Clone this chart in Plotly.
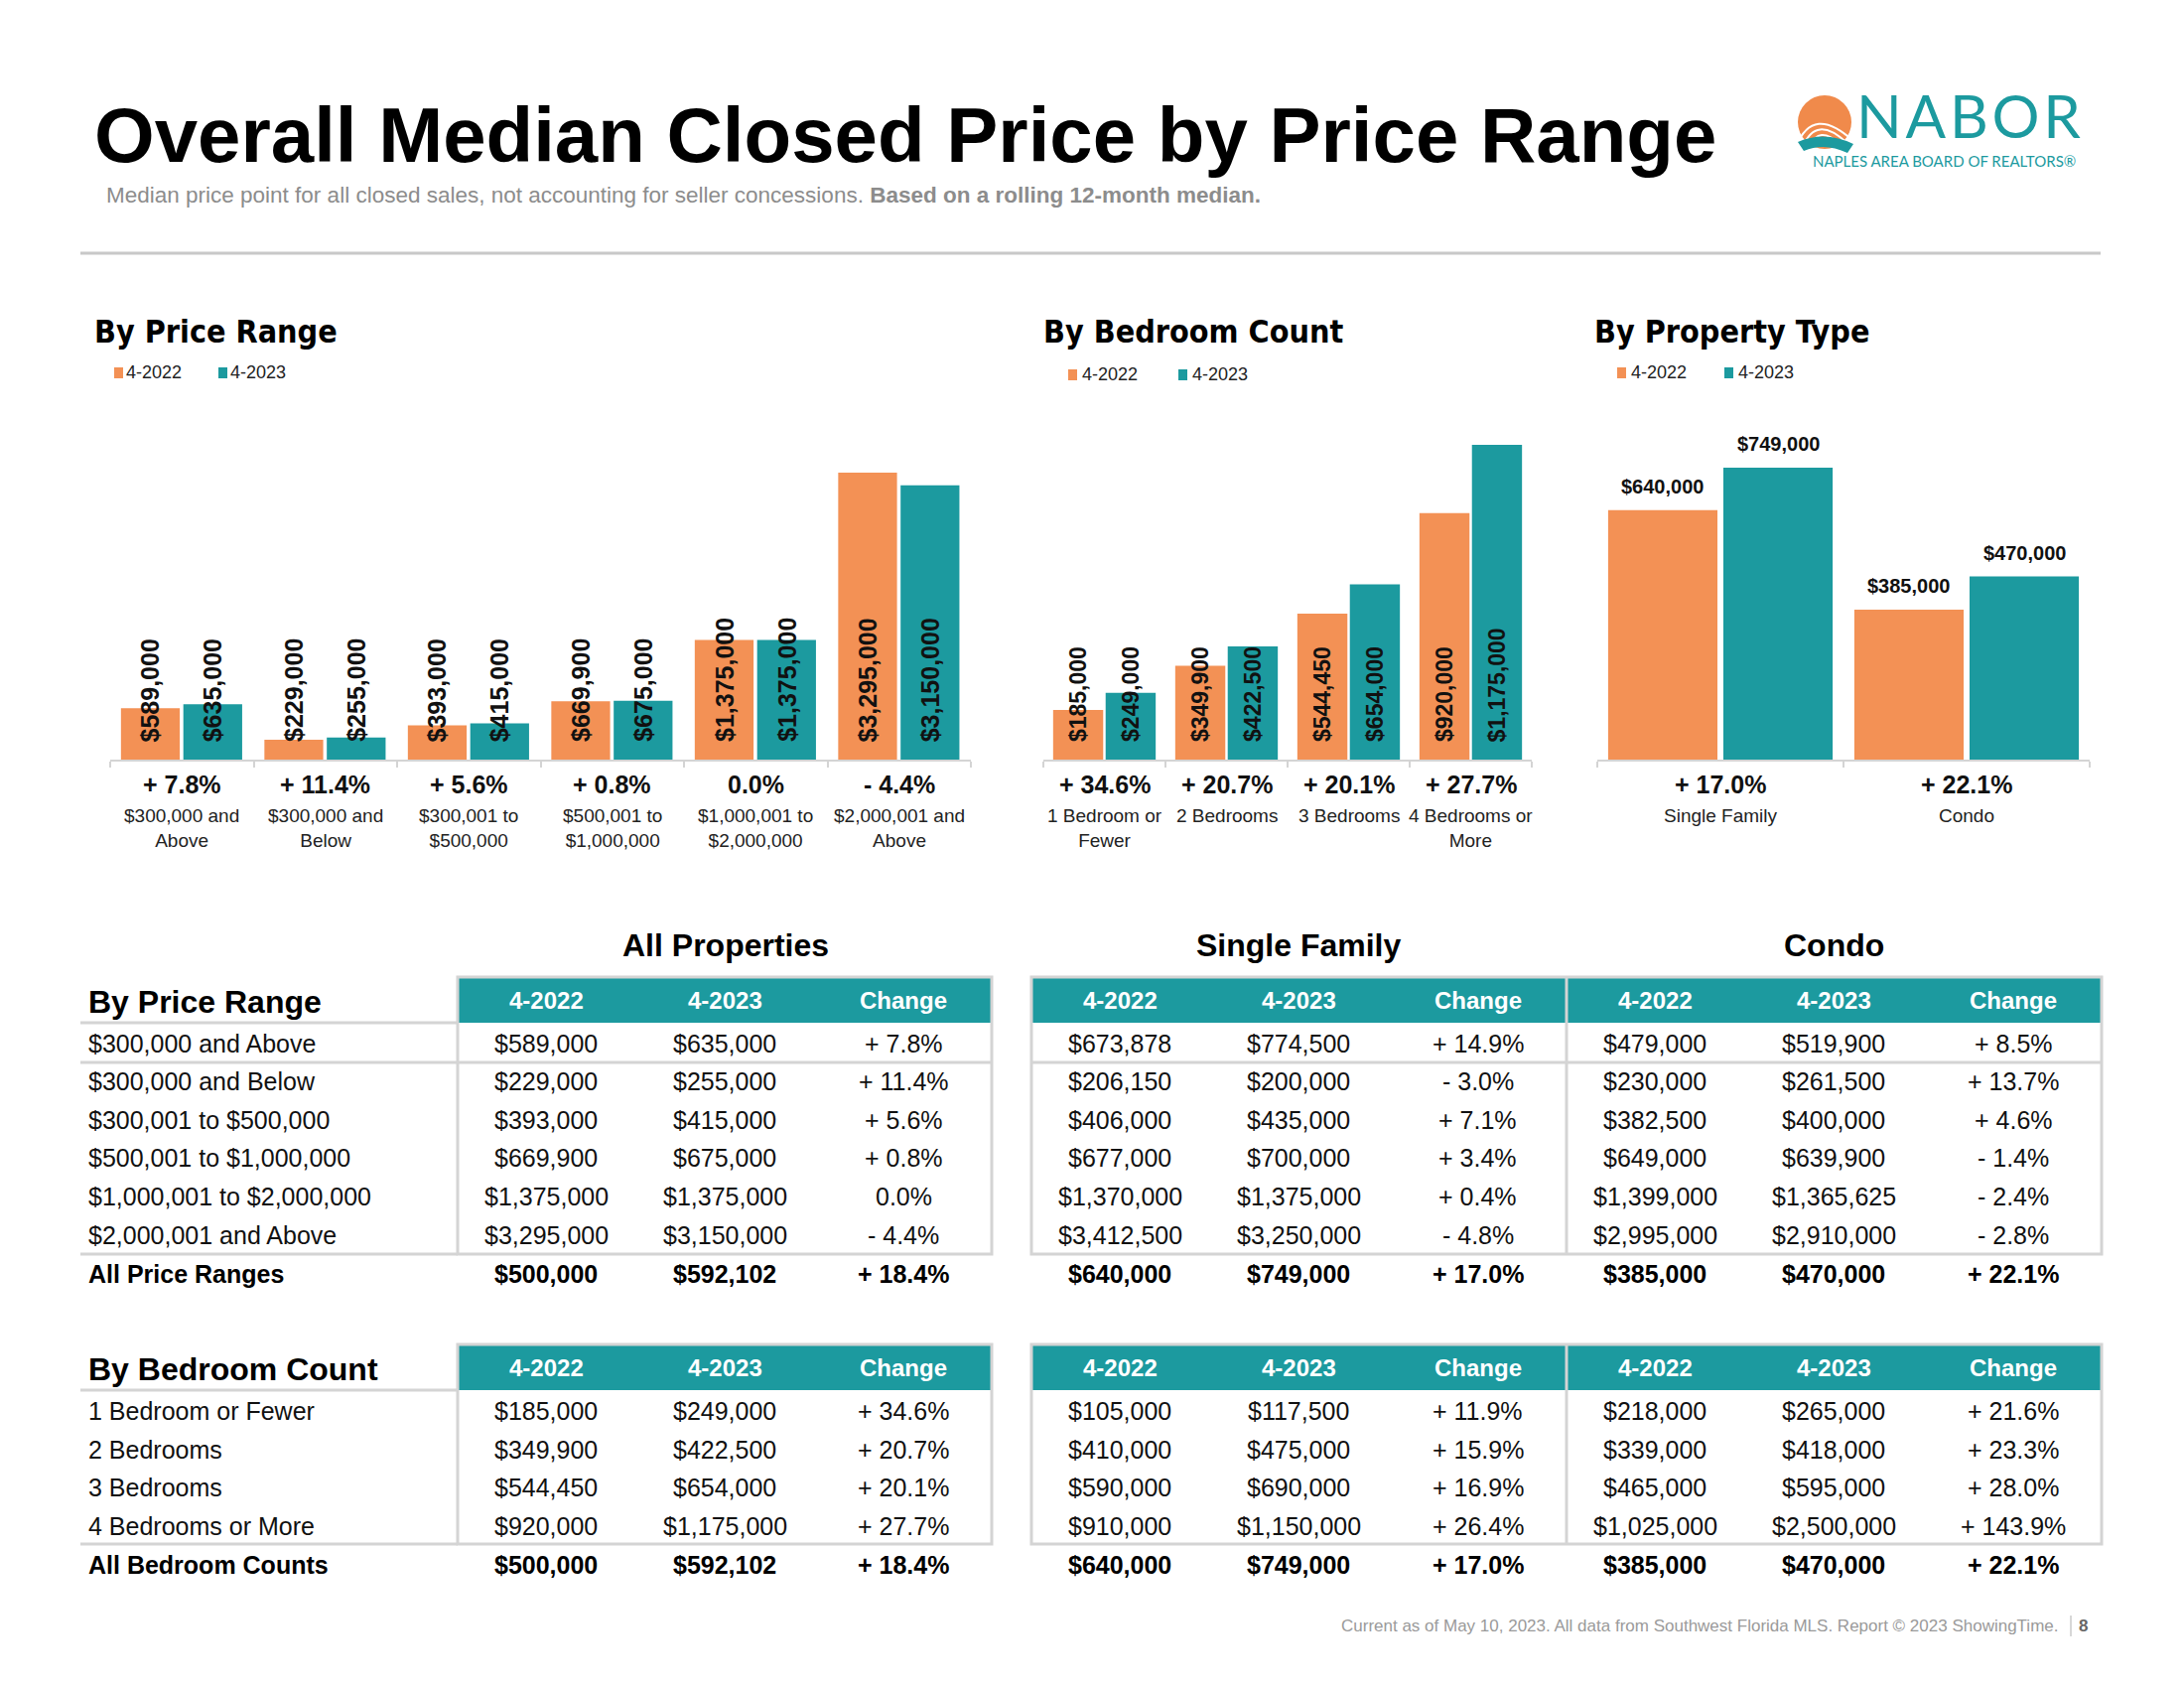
import plotly.graph_objects as go

W, H = 2200, 1700
ORANGE = "#F39155"
TEAL = "#1C9A9F"
GRID = "#d4d4d4"
FONT = "Liberation Sans, Arial, Helvetica, sans-serif"
NARROW = "DejaVu Sans Condensed, Liberation Sans Narrow, Arial Narrow, sans-serif"

# ---------------- data ----------------
series_names = ["4-2022", "4-2023"]

price_chart_labels = ["$300,000 and<br>Above", "$300,000 and<br>Below", "$300,001 to<br>$500,000",
                      "$500,001 to<br>$1,000,000", "$1,000,001 to<br>$2,000,000", "$2,000,001 and<br>Above"]
price_2022 = [589000, 229000, 393000, 669900, 1375000, 3295000]
price_2023 = [635000, 255000, 415000, 675000, 1375000, 3150000]
price_chg = ["+ 7.8%", "+ 11.4%", "+ 5.6%", "+ 0.8%", "0.0%", "- 4.4%"]

bed_chart_labels = ["1 Bedroom or<br>Fewer", "2 Bedrooms", "3 Bedrooms", "4 Bedrooms or<br>More"]
bed_2022 = [185000, 349900, 544450, 920000]
bed_2023 = [249000, 422500, 654000, 1175000]
bed_chg = ["+ 34.6%", "+ 20.7%", "+ 20.1%", "+ 27.7%"]

type_labels = ["Single Family", "Condo"]
type_2022 = [640000, 385000]
type_2023 = [749000, 470000]
type_chg = ["+ 17.0%", "+ 22.1%"]

price_rows = ["$300,000 and Above", "$300,000 and Below", "$300,001 to $500,000",
              "$500,001 to $1,000,000", "$1,000,001 to $2,000,000", "$2,000,001 and Above"]
sf_price_2022 = [673878, 206150, 406000, 677000, 1370000, 3412500]
sf_price_2023 = [774500, 200000, 435000, 700000, 1375000, 3250000]
sf_price_chg = ["+ 14.9%", "- 3.0%", "+ 7.1%", "+ 3.4%", "+ 0.4%", "- 4.8%"]
condo_price_2022 = [479000, 230000, 382500, 649000, 1399000, 2995000]
condo_price_2023 = [519900, 261500, 400000, 639900, 1365625, 2910000]
condo_price_chg = ["+ 8.5%", "+ 13.7%", "+ 4.6%", "- 1.4%", "- 2.4%", "- 2.8%"]

bed_rows = ["1 Bedroom or Fewer", "2 Bedrooms", "3 Bedrooms", "4 Bedrooms or More"]
sf_bed_2022 = [105000, 410000, 590000, 910000]
sf_bed_2023 = [117500, 475000, 690000, 1150000]
sf_bed_chg = ["+ 11.9%", "+ 15.9%", "+ 16.9%", "+ 26.4%"]
condo_bed_2022 = [218000, 339000, 465000, 1025000]
condo_bed_2023 = [265000, 418000, 595000, 2500000]
condo_bed_chg = ["+ 21.6%", "+ 23.3%", "+ 28.0%", "+ 143.9%"]

all_total = [500000, 592102, "+ 18.4%"]
sf_total = [640000, 749000, "+ 17.0%"]
condo_total = [385000, 470000, "+ 22.1%"]

# ---------------- helpers ----------------
def px(x):
    return x / W

def py(y):
    return 1 - y / H

def money(v):
    return f"${v:,}"

annotations = []
shapes = []

def ann(x, y, text, size, color="#000", xanchor="center", yanchor="middle", family=FONT, **kw):
    annotations.append(dict(
        x=px(x), y=py(y), xref="paper", yref="paper", text=text, showarrow=False,
        xanchor=xanchor, yanchor=yanchor,
        font=dict(family=family, size=size, color=color), **kw))

def hline(x0, x1, y, color=GRID, width=3):
    shapes.append(dict(type="line", xref="paper", yref="paper", x0=px(x0), x1=px(x1),
                       y0=py(y), y1=py(y), line=dict(color=color, width=width)))

def vline(x, y0, y1, color=GRID, width=3):
    shapes.append(dict(type="line", xref="paper", yref="paper", x0=px(x), x1=px(x),
                       y0=py(y0), y1=py(y1), line=dict(color=color, width=width)))

def rect(x0, x1, y0, y1, fill=None, line=None, lw=0):
    shapes.append(dict(type="rect", xref="paper", yref="paper", x0=px(x0), x1=px(x1),
                       y0=py(y0), y1=py(y1), fillcolor=fill if fill else "rgba(0,0,0,0)",
                       line=dict(color=line if line else "rgba(0,0,0,0)", width=lw)))

fig = go.Figure()

# ---------------- header ----------------
ann(93, 136, "<b>Overall Median Closed Price by Price Range</b>", 78, xanchor="left")
ann(105, 197, "Median price point for all closed sales, not accounting for seller concessions. "
    "<b>Based on a rolling 12-month median.</b>", 22.5, color="#8c8c8c", xanchor="left")
hline(81, 2116, 255, color="#c8c8c8", width=3)

# logo
shapes.append(dict(type="circle", xref="paper", yref="paper", x0=px(1811), x1=px(1865),
                   y0=py(96), y1=py(150), fillcolor="#F08A4B", line=dict(width=0)))
for k in range(4):
    r = 8 + k * 7
    shapes.append(dict(type="path", xref="paper", yref="paper",
                       path=f"M {px(1838 - r)} {py(148)} Q {px(1838 - r * 0.4)} {py(148 - r * 1.5)} {px(1838 + r)} {py(148 - r * 0.2)}",
                       line=dict(color="white", width=2)))
shapes.append(dict(type="path", xref="paper", yref="paper",
                   path=f"M {px(1811)} {py(143)} Q {px(1838)} {py(131)} {px(1867)} {py(145)} L {px(1861)} {py(154)} Q {px(1838)} {py(143)} {px(1817)} {py(152)} Z",
                   fillcolor=TEAL, line=dict(width=0)))
ann(1868, 116, "N&#8202;A&#8202;B&#8202;O&#8202;R", 60, color=TEAL, xanchor="left",
    family="Lato, Open Sans, sans-serif")
ann(1958, 162, "NAPLES AREA BOARD OF REALTORS®", 15, color=TEAL, family="Lato, Open Sans, sans-serif")

# ---------------- charts ----------------
charts = [
    dict(ax="", x0=111, x1=978, labels=price_chart_labels, a=price_2022, b=price_2023, chg=price_chg,
         top_px=289, width=0.41, off=(-0.425, 0.01), label="rot", lsize=25,
         title="By Price Range", tx=93, leg=(115, 126, 220, 231), ly=375),
    dict(ax="2", x0=1051, x1=1543, labels=bed_chart_labels, a=bed_2022, b=bed_2023, chg=bed_chg,
         top_px=317, width=0.41, off=(-0.42, 0.01), label="rot", lsize=23,
         title="By Bedroom Count", tx=1049, leg=(1076, 1089, 1187, 1200), ly=377),
    dict(ax="3", x0=1609, x1=2105, labels=type_labels, a=type_2022, b=type_2023, chg=type_chg,
         top_px=294, width=0.444, off=(-0.456, 0.012), label="top", lsize=20,
         title="By Property Type", tx=1604, leg=(1629, 1642, 1737, 1750), ly=375),
]

BASE = 765
TOP = 420
layout_axes = {}
for c in charts:
    n = len(c["labels"])
    xs = list(range(n))
    xa = "x" + c["ax"]
    ya = "y" + c["ax"]
    vmax = max(max(c["a"]), max(c["b"]))
    ytop = vmax * (BASE - TOP) / c["top_px"]
    for vals, col, off, name in [(c["a"], ORANGE, c["off"][0], series_names[0]),
                                  (c["b"], TEAL, c["off"][1], series_names[1])]:
        fig.add_trace(go.Bar(x=xs, y=vals, width=c["width"], offset=off, marker_color=col,
                             marker_line_width=0, name=name, showlegend=False,
                             xaxis=xa, yaxis=ya, hoverinfo="skip"))
        for i, v in enumerate(vals):
            if c["label"] == "rot":
                annotations.append(dict(x=i + off + c["width"] / 2, y=0, xref=xa, yref=ya,
                                        text=f"<b>{money(v)}</b>", showarrow=False, textangle=-90,
                                        xanchor="center", yanchor="bottom", yshift=16,
                                        font=dict(family=FONT, size=c["lsize"], color="#111")))
            else:
                annotations.append(dict(x=i + off + c["width"] / 2, y=v, xref=xa, yref=ya,
                                        text=f"<b>{money(v)}</b>", showarrow=False,
                                        xanchor="center", yanchor="bottom", yshift=11,
                                        font=dict(family=FONT, size=c["lsize"], color="#111")))
    key = "xaxis" + c["ax"]
    ykey = "yaxis" + c["ax"]
    layout_axes[key] = dict(domain=[px(c["x0"]), px(c["x1"])], range=[-0.5, n - 0.5],
                            anchor=ya, showgrid=False, zeroline=False, showline=True,
                            linecolor=GRID, linewidth=2, ticks="outside", ticklen=6,
                            tickcolor=GRID, tickwidth=2,
                            tickvals=[i - 0.5 for i in range(n + 1)], showticklabels=False,
                            fixedrange=True)
    layout_axes[ykey] = dict(domain=[py(BASE), py(TOP)], range=[0, ytop], anchor=xa,
                             visible=False, fixedrange=True)
    for i in range(n):
        annotations.append(dict(x=i, y=py(790), xref=xa, yref="paper", text=f"<b>{c['chg'][i]}</b>",
                                showarrow=False, xanchor="center", yanchor="middle",
                                font=dict(family=FONT, size=25, color="#111")))
        annotations.append(dict(x=i, y=py(809), xref=xa, yref="paper", text=c["labels"][i],
                                showarrow=False, xanchor="center", yanchor="top",
                                font=dict(family=FONT, size=19, color="#222")))
    # title + legend
    ann(c["tx"], 334, f"<b>{c['title']}</b>", 32, xanchor="left", family=NARROW)
    s1, t1, s2, t2 = c["leg"]
    for sx, tx, col, name in [(s1, t1, ORANGE, series_names[0]), (s2, t2, TEAL, series_names[1])]:
        rect(sx, sx + 9, c["ly"] - 5, c["ly"] + 6, fill=col)
        ann(tx - 1, c["ly"], name, 18, color="#222", xanchor="left")

# ---------------- tables ----------------
LBL_X0 = 81
AP = (461, 999)
SF = (1039, 2117)
DIV = 1578
AP_COLS = [550, 730, 910]
SF_COLS = [1128, 1308, 1489]
CO_COLS = [1667, 1847, 2028]
HDR = ["4-2022", "4-2023", "Change"]

ann(731, 952, "<b>All Properties</b>", 32)
ann(1308, 952, "<b>Single Family</b>", 32)
ann(1847, 952, "<b>Condo</b>", 32)

def table(top, hbot, row_ys, bottom, total_y, title, rows, ap, sfv, cov, tot_label, first_sep):
    rect(AP[0], AP[1], top, hbot, fill=TEAL)
    rect(SF[0], SF[1], top, hbot, fill=TEAL)
    rect(AP[0], AP[1], top, bottom, line=GRID, lw=3)
    rect(SF[0], SF[1], top, bottom, line=GRID, lw=3)
    vline(DIV, top, bottom)
    hline(LBL_X0, AP[0], hbot)
    hline(LBL_X0, AP[0], bottom)
    if first_sep:
        sep = (row_ys[0] + row_ys[1]) / 2
        hline(LBL_X0, AP[1], sep)
        hline(SF[0], SF[1], sep)
    hy = (top + hbot) / 2
    ann(87, hy + 2, f"<b>{title}</b>", 32, xanchor="left")
    for cols in (AP_COLS, SF_COLS, CO_COLS):
        for cx, h in zip(cols, HDR):
            ann(cx, hy, f"<b>{h}</b>", 24, color="white")
    for r, y in enumerate(row_ys):
        ann(87, y, rows[r], 25, color="#111", xanchor="left")
        for cols, (v1, v2, ch) in zip((AP_COLS, SF_COLS, CO_COLS), (ap, sfv, cov)):
            ann(cols[0], y, money(v1[r]), 25, color="#111")
            ann(cols[1], y, money(v2[r]), 25, color="#111")
            ann(cols[2], y, ch[r], 25, color="#111")
    ann(87, total_y, f"<b>{tot_label}</b>", 25, xanchor="left")
    for cols, t in zip((AP_COLS, SF_COLS, CO_COLS), (all_total, sf_total, condo_total)):
        ann(cols[0], total_y, f"<b>{money(t[0])}</b>", 25)
        ann(cols[1], total_y, f"<b>{money(t[1])}</b>", 25)
        ann(cols[2], total_y, f"<b>{t[2]}</b>", 25)

table(984, 1030, [1051, 1089, 1128, 1166, 1205, 1244], 1263, 1283, "By Price Range", price_rows,
      (price_2022, price_2023, price_chg),
      (sf_price_2022, sf_price_2023, sf_price_chg),
      (condo_price_2022, condo_price_2023, condo_price_chg), "All Price Ranges", True)

table(1354, 1400, [1421, 1460, 1498, 1537], 1555, 1576, "By Bedroom Count", bed_rows,
      (bed_2022, bed_2023, bed_chg),
      (sf_bed_2022, sf_bed_2023, sf_bed_chg),
      (condo_bed_2022, condo_bed_2023, condo_bed_chg), "All Bedroom Counts", False)

# footer
ann(2075, 1637, "Current as of May 10, 2023. All data from Southwest Florida MLS. Report © 2023 ShowingTime.",
    17, color="#9a9a9a", xanchor="right")
vline(2086, 1627, 1648, color="#b0b0b0", width=1)
ann(2092, 1637, "<b>8</b>", 17, color="#666", xanchor="left")

fig.update_layout(width=W, height=H, autosize=False, margin=dict(l=0, r=0, t=0, b=0),
                  paper_bgcolor="white", plot_bgcolor="white", showlegend=False,
                  barmode="overlay", annotations=annotations, shapes=shapes, **layout_axes)

fig.write_html("out.html")
